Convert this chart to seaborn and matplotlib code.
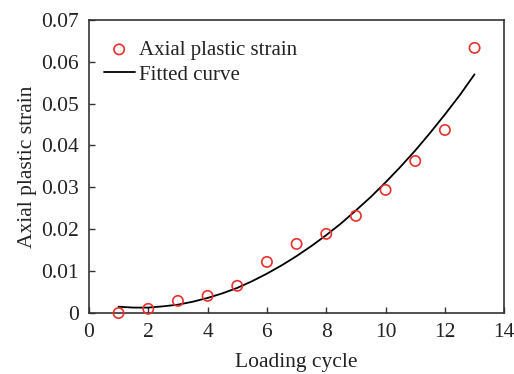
import numpy as np
import pandas as pd
import seaborn as sns
import matplotlib.pyplot as plt

# measured axial plastic strain per loading cycle
cycles = [1, 2, 3, 4, 5, 6, 7, 8, 9, 10, 11, 12, 13]
strain = [0.0000, 0.0010, 0.0029, 0.0041, 0.0065, 0.0122, 0.0165,
          0.0189, 0.0232, 0.0294, 0.0363, 0.0437, 0.0633]

# fitted curve at half-cycle steps
fit_x = [1, 1.5, 2, 2.5, 3, 3.5, 4, 4.5, 5, 5.5, 6, 6.5, 7, 7.5, 8,
         8.5, 9, 9.5, 10, 10.5, 11, 11.5, 12, 12.5, 13]
fit_y = [0.0015, 0.0013, 0.0013, 0.0016, 0.0020, 0.0027, 0.0036, 0.0047,
         0.0060, 0.0076, 0.0094, 0.0114, 0.0136, 0.0160, 0.0186, 0.0214,
         0.0245, 0.0277, 0.0312, 0.0349, 0.0388, 0.0430, 0.0474, 0.0520, 0.0570]

pts = pd.DataFrame({"cycle": cycles, "strain": strain})
fit = pd.DataFrame({"cycle": fit_x, "strain": fit_y})

sns.set_style("ticks")
plt.rcParams["font.family"] = ["Liberation Serif", "DejaVu Serif"]

fig = plt.figure(figsize=(5.14, 3.74), dpi=100)
ax = fig.add_axes([0.173, 0.163, 0.808, 0.784])

sns.scatterplot(data=pts, x="cycle", y="strain", ax=ax, marker="o", s=55,
                facecolor="none", edgecolor="#e8302c", linewidth=1.2,
                label="Axial plastic strain", clip_on=False, zorder=3)
sns.lineplot(data=fit, x="cycle", y="strain", ax=ax, color="black",
             linewidth=1.3, label="Fitted curve")

ax.set_xlim(0, 14)
ax.set_ylim(0, 0.07)
ax.set_xticks(range(0, 15, 2))
ax.set_yticks(np.arange(0, 0.071, 0.01))
ax.set_yticklabels(["0", "0.01", "0.02", "0.03", "0.04", "0.05", "0.06", "0.07"])
ax.set_xlabel("Loading cycle", fontsize=15.5, color="#222222", labelpad=8)
ax.set_ylabel("Axial plastic strain", fontsize=15.5, color="#222222", labelpad=3)
ax.tick_params(direction="in", length=4, width=1, labelsize=15.5, pad=7,
               colors="#333333", labelcolor="#222222", top=False, right=False)
for s in ax.spines.values():
    s.set_visible(True)
    s.set_color("#333333")
    s.set_linewidth(1.2)

leg = ax.legend(loc="upper left", frameon=False, fontsize=15,
                handlelength=1.5, handletextpad=0.2, labelspacing=0.25,
                borderaxespad=0.3, bbox_to_anchor=(0.0, 0.98))
for t in leg.get_texts():
    t.set_color("#222222")

fig.savefig("out.png", dpi=100)
